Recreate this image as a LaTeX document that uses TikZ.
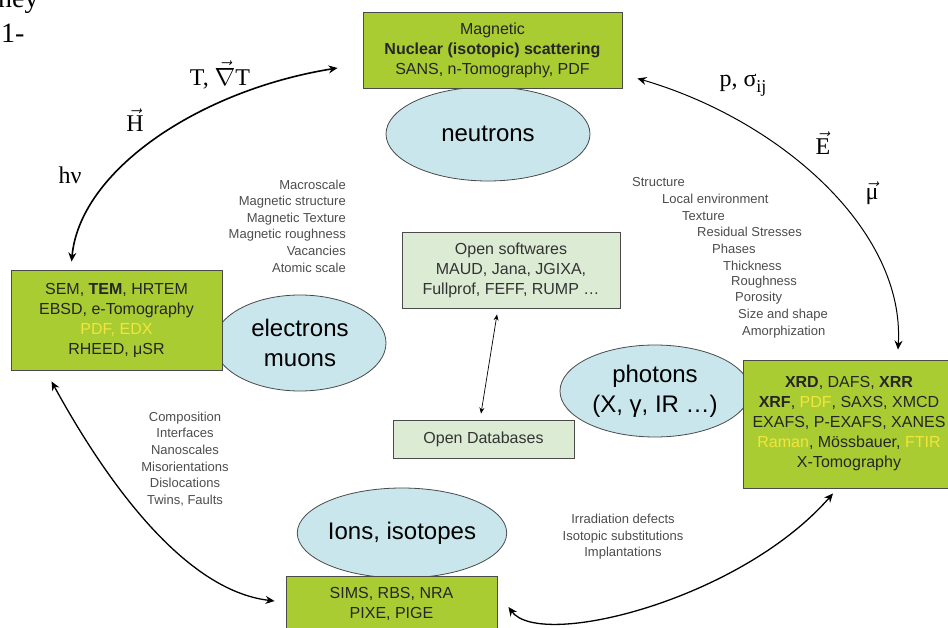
\documentclass[tikz,border=0pt]{standalone}
\usepackage{fontspec}
\setmainfont{Liberation Sans}
\newfontfamily\serifface{Liberation Serif}
\usetikzlibrary{shapes.geometric,arrows.meta,positioning}
\definecolor{techgreen}{HTML}{AACC33}
\definecolor{probeblue}{HTML}{C9E6EC}
\definecolor{softgreen}{HTML}{DCEBD3}
\definecolor{hilite}{HTML}{F2E63A}
\definecolor{edgegray}{HTML}{4A4A4A}

\begin{document}
\begin{tikzpicture}[x=1pt,y=-1pt,
  probe/.style={ellipse,draw=edgegray,fill=probeblue,line width=0.8pt,inner sep=0pt,
    align=center,font=\fontsize{24}{30}\selectfont},
  techbox/.style={rectangle,draw=edgegray,fill=techgreen,line width=0.9pt,
    align=center,font=\fontsize{16}{20}\selectfont,text=black!85},
  softbox/.style={rectangle,draw=edgegray,fill=softgreen,line width=0.9pt,
    align=center,font=\fontsize{16}{20}\selectfont,text=black!80},
  notes/.style={inner sep=0pt,font=\fontsize{13}{16.6}\selectfont,text=black!70},
  field/.style={inner sep=0pt,font=\serifface\fontsize{24}{28}\selectfont},
  link/.style={{Stealth[length=9pt,width=8pt,inset=3pt]}-{Stealth[length=9pt,width=8pt,inset=3pt]}}]
\useasboundingbox (0,0) rectangle (948,628);

% leftover of the page
\node[field,anchor=base west,font=\serifface\fontsize{28}{28}\selectfont] (frag1) at (-2,8) {ney};
\node[field,anchor=base west,font=\serifface\fontsize{28}{28}\selectfont] (frag2) at (1,43) {1-};

% probes
\node[probe,minimum width=204,minimum height=94] (neutrons) at (488,134) {neutrons};
\node[probe,minimum width=172,minimum height=96] (electrons) at (300,343) {electrons\\muons};
\node[probe,minimum width=190,minimum height=92] (photons) at (655,391) {photons\\(X, γ, IR …)};
\node[probe,minimum width=205,minimum height=90] (ions) at (402,533) {Ions, isotopes};

% techniques
\node[techbox,minimum width=259,minimum height=76] (nbox) at (492.5,50)
  {Magnetic\\\textbf{Nuclear (isotopic) scattering}\\SANS, n-Tomography, PDF};
\node[techbox,minimum width=211,minimum height=100] (ebox) at (116.5,320)
  {SEM, \textbf{TEM}, HRTEM\\EBSD, e-Tomography\\\textcolor{hilite}{PDF, EDX}\\RHEED, μSR};
\node[techbox,minimum width=212,minimum height=128] (pbox) at (849,424)
  {\textbf{XRD}, DAFS, \textbf{XRR}\\\textbf{XRF}, \textcolor{hilite}{PDF}, SAXS, XMCD\\EXAFS, P-EXAFS, XANES\\
   \textcolor{hilite}{Raman}, Mössbauer, \textcolor{hilite}{FTIR}\\X-Tomography};
\node[techbox,minimum width=211,minimum height=56] (ibox) at (391.5,604) {SIMS, RBS, NRA\\PIXE, PIGE};

% open tools
\node[softbox,minimum width=218,minimum height=76] (sbox) at (511,270)
  {Open softwares\\MAUD, Jana, JGIXA,\\Fullprof, FEFF, RUMP …};
\node[softbox,minimum width=181,minimum height=38] (dbox) at (483.5,439) {Open Databases};

% connectors
\draw[link,line width=1.6pt] ([shift={(61,-8)}]ebox.north west) .. controls (80,170) and (200,90) .. ([shift={(-25,18)}]nbox.west);
\draw[link,line width=1pt] ([shift={(15,-10)}]nbox.south east) .. controls (780,120) and (905,230) .. ([shift={(49,-10)}]pbox.north);
\draw[link,line width=1.3pt] ([shift={(41,11)}]ebox.south west) .. controls (100,470) and (180,590) .. ([shift={(-11,-3)}]ibox.west);
\draw[link,line width=1.3pt] ([shift={(11,3)}]ibox.east) .. controls (540,650) and (740,600) .. ([shift={(-16,5)}]pbox.south);
\draw[{Stealth[length=6pt,width=5pt,inset=2pt]}-{Stealth[length=6pt,width=5pt,inset=2pt]},line width=0.7pt]
  ([shift={(-14,6)}]sbox.south) -- ([shift={(-2.5,-6)}]dbox.north);

% fields
\node[field] (grad) at (220,75) {T, $\vec{\nabla}$T};
\node[field] (hfield) at (135,120) {$\vec{\hbox{\serifface H}}$};
\node[field] (light) at (70,175) {hν};
\node[field] (stress) at (743,85) {p, σ\raisebox{-6pt}{\fontsize{18}{18}\selectfont ij}};
\node[field] (efield) at (823,143) {$\vec{\hbox{\serifface E}}$};
\node[field] (moment) at (872,193) {$\vec{\hbox{\serifface μ}}$};

% what is seen
\node[notes,align=right,anchor=east] (magnotes) at (346,226)
  {Macroscale\\Magnetic structure\\Magnetic Texture\\Magnetic roughness\\Vacancies\\Atomic scale};
\foreach \x/\y/\txt [count=\i] in {632/182/Structure, 662/199/Local environment, 682/216/Texture,
    697/232/Residual Stresses, 712/249/Phases, 723/266/Thickness, 731/282/Roughness,
    735/298/Porosity, 738/315/Size and shape, 742/332/Amorphization}
  \node[notes,anchor=west] (xnote\i) at (\x,\y) {\txt};
\node[notes,align=center] (ionnotes) at (185,459)
  {Composition\\Interfaces\\Nanoscales\\Misorientations\\Dislocations\\Twins, Faults};
\node[notes,align=center] (irrnotes) at (623,537)
  {Irradiation defects\\Isotopic substitutions\\Implantations};
\end{tikzpicture}
\end{document}
